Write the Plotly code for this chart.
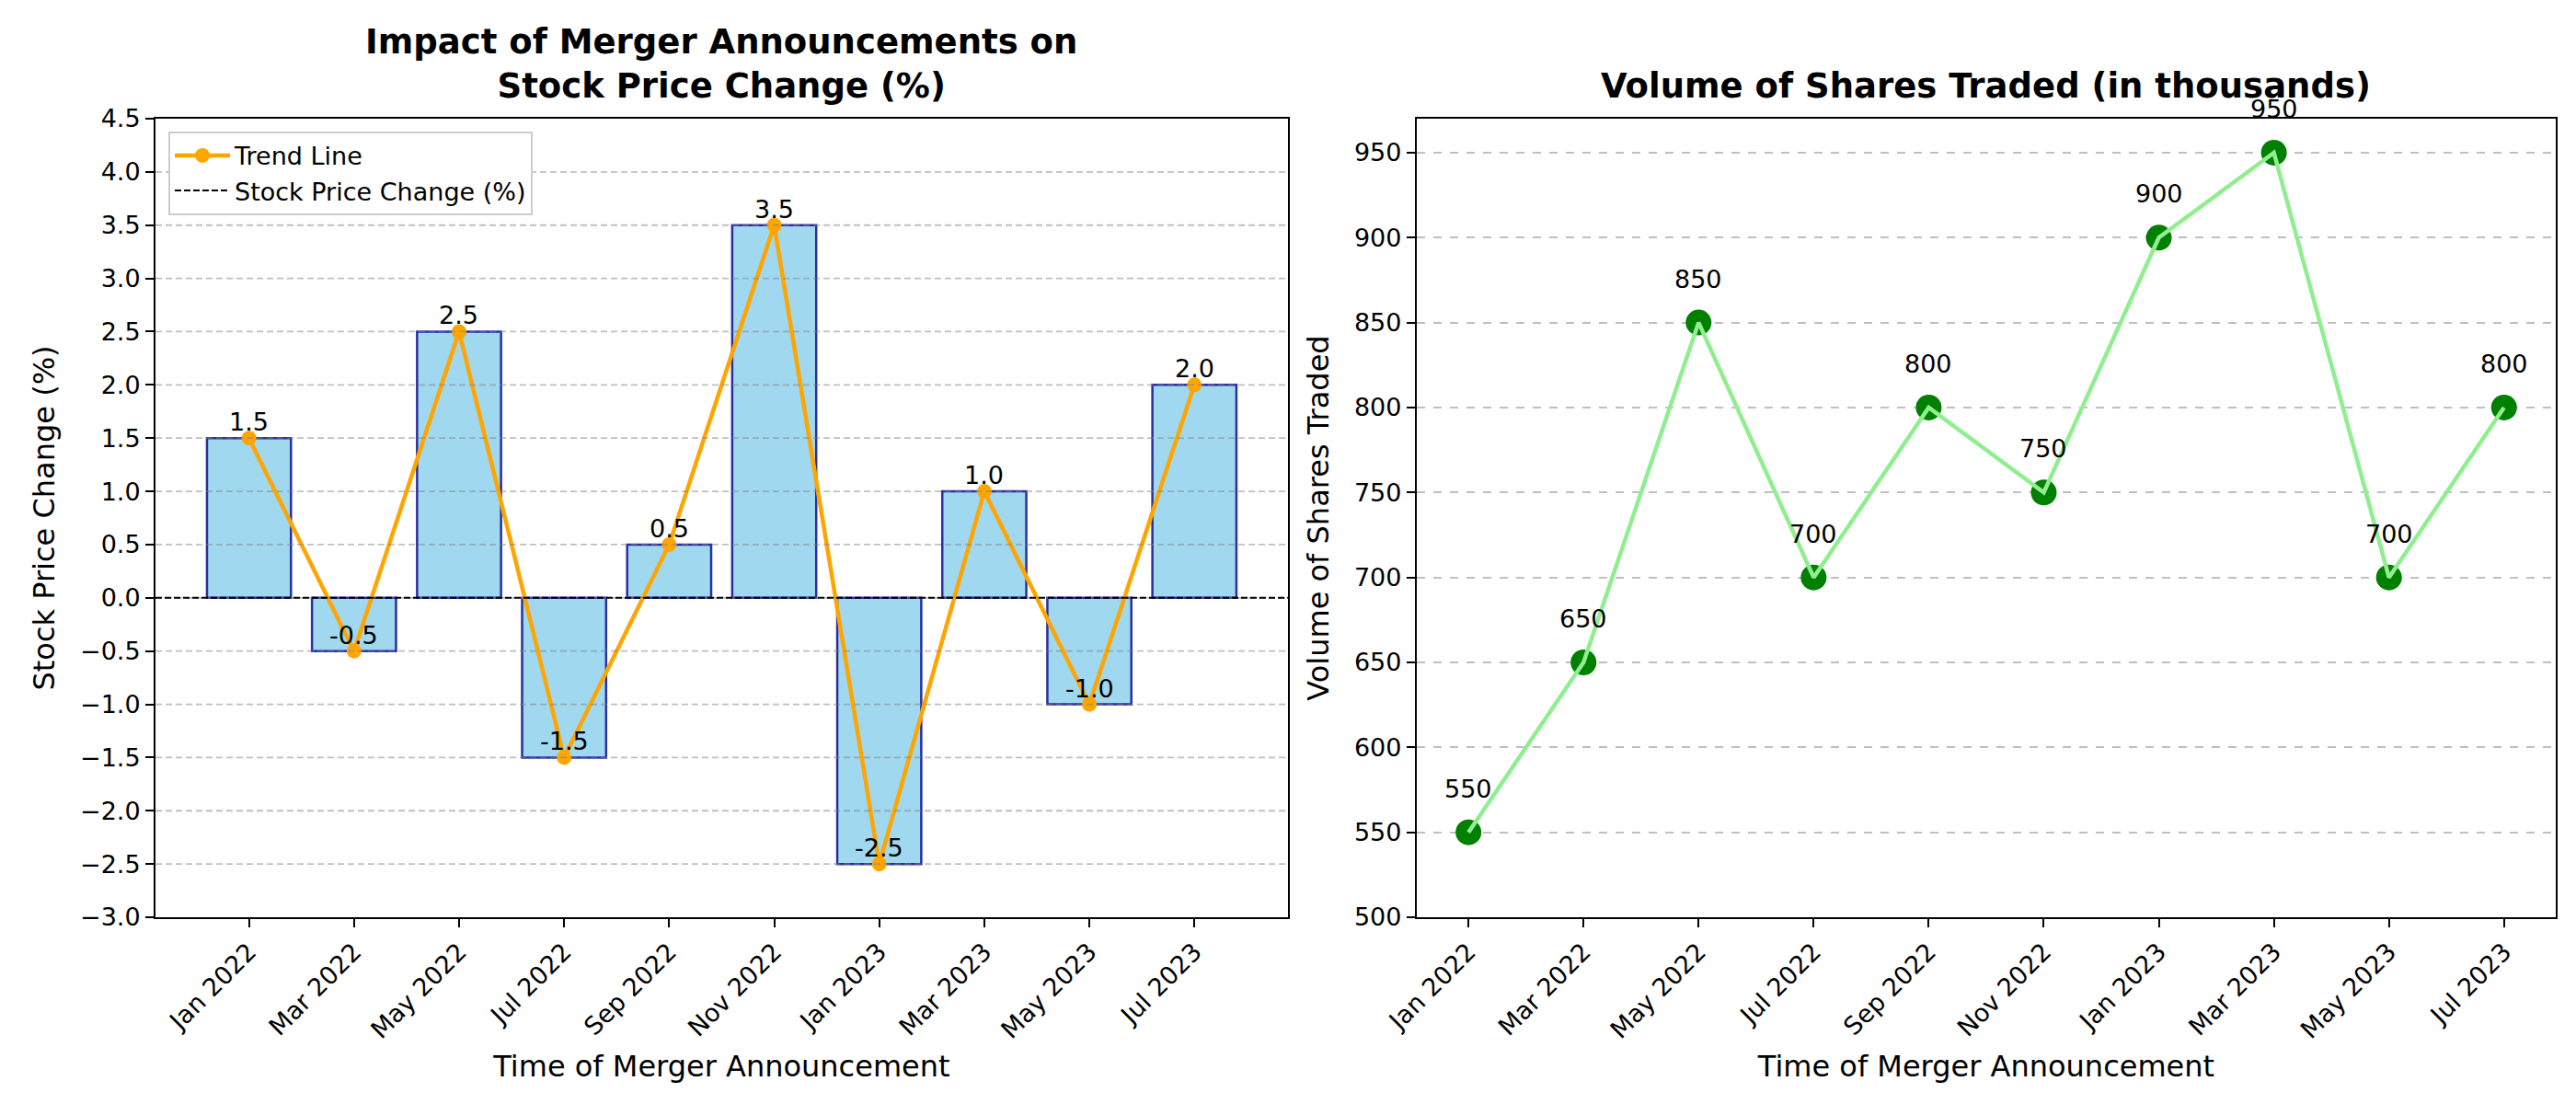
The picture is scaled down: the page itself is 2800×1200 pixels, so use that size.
import plotly.graph_objects as go

# --- data ---
months = ['Jan 2022', 'Mar 2022', 'May 2022', 'Jul 2022', 'Sep 2022',
          'Nov 2022', 'Jan 2023', 'Mar 2023', 'May 2023', 'Jul 2023']
price_change = [1.5, -0.5, 2.5, -1.5, 0.5, 3.5, -2.5, 1.0, -1.0, 2.0]
volume = [550, 650, 850, 700, 800, 750, 900, 950, 700, 800]
price_ticks = [-3.0, -2.5, -2.0, -1.5, -1.0, -0.5, 0.0, 0.5, 1.0,
               1.5, 2.0, 2.5, 3.0, 3.5, 4.0, 4.5]

FONT = 'DejaVu Sans'
GRID = 'rgba(128,128,128,0.5)'

fig = go.Figure()

# left panel: bars + trend line
fig.add_trace(go.Bar(
    x=months, y=price_change, width=0.8,
    marker=dict(color='rgba(135,206,235,0.8)',
                line=dict(color='rgba(0,0,139,0.8)', width=2.5)),
    showlegend=False, xaxis='x', yaxis='y'))

fig.add_trace(go.Scatter(
    x=months, y=price_change, mode='lines+markers', name='Trend Line',
    line=dict(color='orange', width=4.5), marker=dict(color='orange', size=16),
    xaxis='x', yaxis='y'))

# legend entry for the zero line
fig.add_trace(go.Scatter(
    x=[None], y=[None], mode='lines', name='Stock Price Change (%)',
    line=dict(color='black', width=2, dash='7px,3px'),
    xaxis='x', yaxis='y'))

# grid of the left panel sits on top of the bars (like matplotlib does)
for t in price_ticks[1:-1]:
    fig.add_shape(type='line', x0=0, x1=1, y0=t, y1=t,
                  xref='x domain', yref='y', layer='above',
                  line=dict(color=GRID, width=1.8, dash='7px,4px'))

fig.add_shape(type='line', x0=0, x1=1, y0=0, y1=0,
              xref='x domain', yref='y', layer='above',
              line=dict(color='black', width=2, dash='7px,3px'))

# value labels on bars
for m, v in zip(months, price_change):
    fig.add_annotation(x=m, y=v, text=f'{v:.1f}', showarrow=False,
                       xref='x', yref='y', yanchor='bottom',
                       font=dict(size=27, color='black'))

# right panel: volume
fig.add_trace(go.Scatter(
    x=months, y=volume, mode='markers',
    marker=dict(color='green', size=28),
    showlegend=False, xaxis='x2', yaxis='y2'))
fig.add_trace(go.Scatter(
    x=months, y=volume, mode='lines',
    line=dict(color='lightgreen', width=4.5),
    showlegend=False, xaxis='x2', yaxis='y2'))

for m, v in zip(months, volume):
    fig.add_annotation(x=m, y=v, text=str(v), showarrow=False,
                       xref='x2', yref='y2', yanchor='bottom', yshift=30,
                       font=dict(size=27, color='black'))

# subplot titles
fig.add_annotation(text='<b>Impact of Merger Announcements on<br>Stock Price Change (%)</b>',
                   x=0.5, y=1, xref='x domain', yref='paper', yanchor='bottom',
                   yshift=12, showarrow=False, font=dict(size=37, color='black'))
fig.add_annotation(text='<b>Volume of Shares Traded (in thousands)</b>',
                   x=0.5, y=1, xref='x2 domain', yref='paper', yanchor='bottom',
                   yshift=12, showarrow=False, font=dict(size=37, color='black'))

axis_style = dict(showline=True, linecolor='black', linewidth=2, mirror=True,
                  ticks='outside', ticklen=9, tickwidth=2, tickcolor='black',
                  automargin=False, tickfont=dict(size=27, color='black'))

fig.update_layout(
    width=2800, height=1200,
    margin=dict(l=0, r=0, t=121, b=211),
    plot_bgcolor='white', paper_bgcolor='white',
    font=dict(family=FONT, color='black'),
    xaxis=dict(domain=[0.0575, 0.4971], range=[-0.89, 9.89], tickangle=-45,
               showgrid=False, title=dict(text='Time of Merger Announcement',
                                          font=dict(size=32), standoff=14),
               **axis_style),
    yaxis=dict(range=[-3, 4.5], tickvals=price_ticks, tickformat='.1f',
               showgrid=False, zeroline=False,
               title=dict(text='Stock Price Change (%)', font=dict(size=32), standoff=18),
               **axis_style),
    xaxis2=dict(domain=[0.5471, 0.9893], range=[-0.45, 9.45], tickangle=-45,
                showgrid=False, anchor='y2',
                title=dict(text='Time of Merger Announcement',
                           font=dict(size=32), standoff=14),
                **axis_style),
    yaxis2=dict(range=[500, 970], dtick=50, anchor='x2',
                showgrid=True, gridcolor=GRID, gridwidth=1.8,
                griddash='dash', zeroline=False,
                title=dict(text='Volume of Shares Traded', font=dict(size=32), standoff=18),
                **axis_style),
    legend=dict(x=0.0625, y=0.984, xanchor='left', yanchor='top',
                bgcolor='white', bordercolor='#cccccc', borderwidth=2,
                font=dict(size=27), itemwidth=60, tracegroupgap=4),
)

fig.write_html('out.html')
